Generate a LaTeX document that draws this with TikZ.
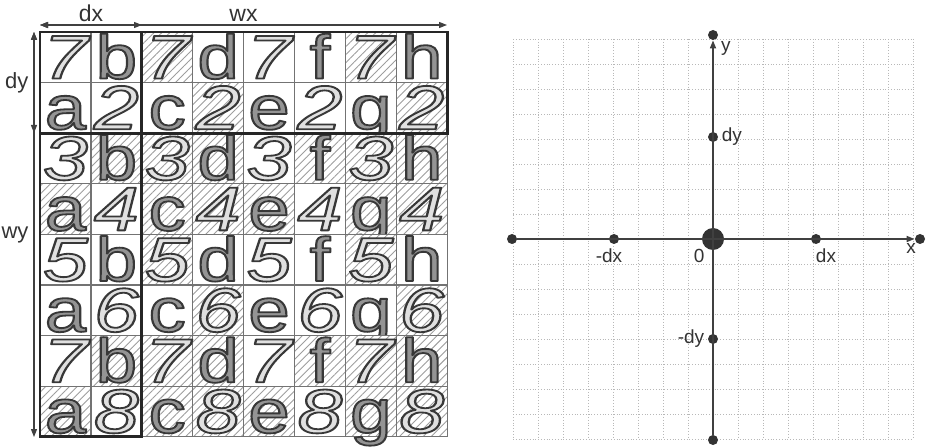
\documentclass[tikz,border=0pt]{standalone}
\usepackage{graphicx}
\usepackage{fontspec}
\setmainfont{Liberation Sans}
\usetikzlibrary{arrows.meta,patterns.meta,positioning}
\newcommand\hollow[1]{\special{pdf:literal direct q 2 Tr 1 j 0.9 w 0.22 G}#1\special{pdf:literal direct Q}}
\newcommand\ltr[1]{\ifcase#1\or a\or b\or c\or d\or e\or f\or g\or h\fi}

\begin{document}
\begin{tikzpicture}[x=.5pt,y=-.5pt,>={Triangle[length=4pt,width=3pt]},
  cell/.style={draw=black!55,line width=.6pt,fill=white,minimum width=25.45pt,minimum height=25.3pt,inner sep=0pt,outer sep=0pt},
  hat0/.style={},
  hat1/.style={preaction={fill=white},pattern={Lines[angle=45,distance=2.8pt,line width=.45pt]},pattern color=black!38},
  ltrs/.style={anchor=base,inner sep=0pt,text=black!42,font=\fontsize{31}{31}\selectfont},
  digs/.style={ltrs,text=black!12,font=\fontsize{31}{31}\selectfont\itshape},
  thickbox/.style={draw=black!85,line width=1.4pt},
  measure/.style={<->,black!75,line width=.6pt},
  gridline/.style={black!28,densely dotted,line width=.4pt},
  axisline/.style={black!75,line width=.8pt},
  dotnode/.style={circle,fill=black!80,inner sep=0pt,minimum size=5pt},
  axlabel/.style={inner sep=0pt,text=black!80,font=\fontsize{9.5}{10}\selectfont}]
\useasboundingbox (0,0) rectangle (930,448);
% left: 8x8 cells
\foreach \r/\d/\hat in {1/7/{0,0,1,0,0,0,1,0},2/2/{0,0,0,1,0,0,0,1},3/3/{0,1,1,1,0,1,1,1},4/4/{1,0,1,1,1,0,1,1},
                        5/5/{0,0,1,0,0,0,1,0},6/6/{0,0,0,1,0,0,0,1},7/7/{0,1,1,1,0,1,1,1},8/8/{1,0,1,1,1,0,1,1}}{
  \foreach \h [count=\c] in \hat
    \node[cell,hat\h] (c\r\c) at ({40+50.9*(\c-.5)},{32+50.6*(\r-.5)}) {};
  \foreach \c in {1,...,8}{
    \ifodd\numexpr\r+\c\relax
      \node[ltrs] (t\r\c) at ({40+50.9*(\c-.5)},{32+50.6*\r-4}) {\hollow{\scalebox{1.2}[1]{\ltr\c}}};
    \else
      \node[digs] (t\r\c) at ({40+50.9*(\c-.5)},{32+50.6*\r-4}) {\hollow{\scalebox{1.3}[1]{\d}}};
    \fi}
}
\draw[thickbox] (c11.north west) rectangle (c28.south east);
\draw[thickbox] (c11.north west) rectangle (c82.south east);
% dimensions
\coordinate (tl) at (40,25);\coordinate (tm) at (142,25);\coordinate (tr) at (447,25);
\coordinate (lt) at (34,32);\coordinate (lm) at (34,133);\coordinate (lb) at (34,437);
\draw[measure] (tl)--(tm) node[midway,above,inner sep=1.5pt,font=\fontsize{11.5}{12}\selectfont,text=black!80]{dx};
\draw[measure] (tl)--(tr) node[midway,above,inner sep=1.5pt,font=\fontsize{11.5}{12}\selectfont,text=black!80]{wx};
\draw[measure] (lt)--(lm) node[midway,left,inner sep=2.5pt,font=\fontsize{11}{12}\selectfont,text=black!80]{dy};
\draw[measure] (lt)--(lb) node[midway,left,inner sep=2.5pt,font=\fontsize{11}{12}\selectfont,text=black!80]{wy};
% right: dotted grid and axes
\foreach \k in {-8,...,8}{
  \draw[gridline] ({713+25*\k},39)--({713+25*\k},439);
  \draw[gridline] (513,{239+25*\k})--(913,{239+25*\k});}
\node[dotnode] (xl) at (512,239){};
\node[dotnode] (xm) at (614,239){};
\node[dotnode,minimum size=11pt] (o) at (713,239){};
\node[dotnode] (xp) at (816,239){};
\node[dotnode] (xr) at (920,239){};
\node[dotnode] (yt) at (713,35){};
\node[dotnode] (yp) at (713,137){};
\node[dotnode] (ym) at (713,339){};
\node[dotnode] (yb) at (713,440){};
\draw[axisline,->] (xl)--(xr);
\draw[axisline,->] (yb)--(yt);
\node[axlabel,below=2pt of xm,xshift=-2.5pt] (lxm) {-dx};
\node[axlabel,below left=1pt and 0pt of o] (lo) {0};
\node[axlabel,below=2pt of xp,xshift=5pt] (lxp) {dx};
\node[axlabel,below left=0pt and 0pt of xr] (lx) {x};
\node[axlabel,below right=1pt and 2pt of yt] (ly) {y};
\node[axlabel,right=1.5pt of yp] (lyp) {dy};
\node[axlabel,left=1.5pt of ym] (lym) {-dy};
\end{tikzpicture}
\end{document}
